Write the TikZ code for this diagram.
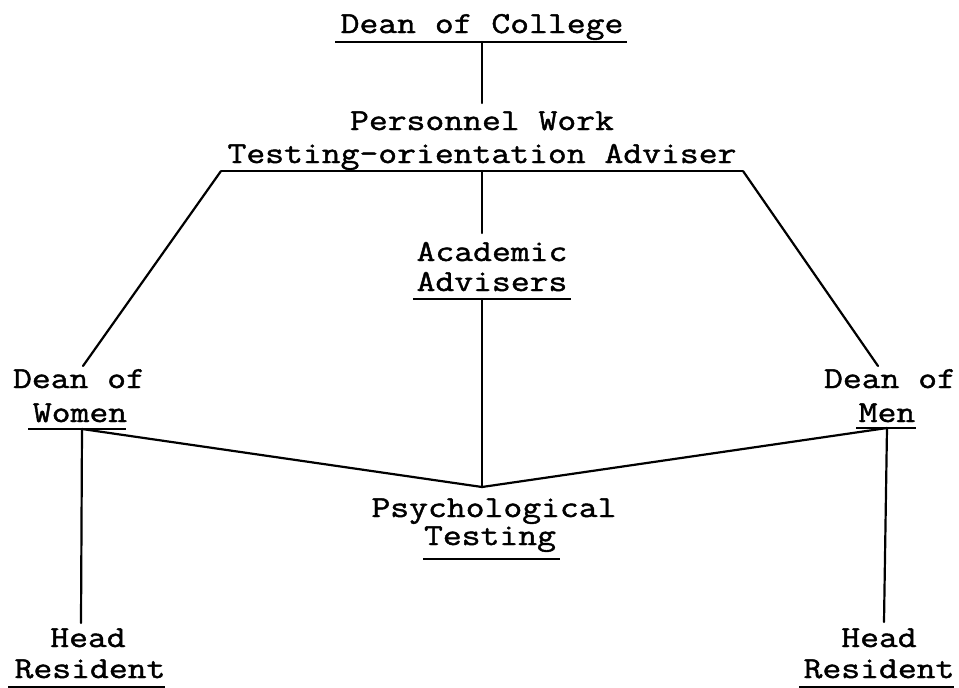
\documentclass[tikz,border=0pt]{standalone}
\usepackage{fontspec}
\newfontfamily\typewriter[FakeStretch=1.2,FakeBold=1.4]{Latin Modern Mono}
\begin{document}
\begin{tikzpicture}[x=1pt,y=-1pt,
  txt/.style={inner sep=0pt, anchor=base, font=\typewriter\fontsize{30.5}{34}\selectfont},
  upper/.style={txt, text depth=0pt},
  lower/.style={txt, text height=12pt},
  rule/.style={line width=2.6pt},
  link/.style={line width=2.2pt, line cap=round, line join=round}]
\useasboundingbox (0,0) rectangle (959,688);
\fill[white] (0,0) rectangle (959,688);

% --- titles ---
\node[txt] (college) at (482,33) {Dean of College};
\node[upper] (pw1) at (482,130) {Personnel Work};
\node[lower] (pw2) at (482,163) {Testing-orientation Adviser};
\node[upper] (acad1) at (492,261) {Academic};
\node[lower] (acad2) at (492,291) {Advisers};
\node[upper] (women1) at (79,388) {Dean of};
\node[lower] (women2) at (80,422) {Women};
\node[upper] (men1) at (890,388) {Dean of};
\node[lower] (men2) at (887,422) {Men};
\node[upper] (psy1) at (494,517) {Psychological};
\node[lower] (psy2) at (490,545) {Testing};
\node[upper] (headL1) at (88,647) {Head};
\node[lower] (headL2) at (90,678) {Resident};
\node[upper] (headR1) at (879,647) {Head};
\node[lower] (headR2) at (879,678) {Resident};

% --- underlines ---
\draw[rule] (335,42) -- (627,42);
\draw[rule] (413,299) -- (571,299);
\draw[rule] (28,429) -- (126,429);
\draw[rule] (856,428) -- (916,428);
\draw[rule] (423,559) -- (560,559);
\draw[rule] (8,687) -- (165,687);
\draw[rule] (799,687) -- (954,687);

% --- connection points ---
\coordinate (college-u) at (482,42);
\coordinate (pw-top) at (482,103);
\coordinate (adv-l) at (221,171);
\coordinate (adv-c) at (482,171);
\coordinate (adv-r) at (743,171);
\coordinate (acad-top) at (482,233);
\coordinate (acad-u) at (482,299);
\coordinate (women-top) at (83,366);
\coordinate (men-top) at (878,366);
\coordinate (women-u) at (82,429);
\coordinate (men-u) at (887,428);
\coordinate (psy-top) at (482,487);
\coordinate (headL-top) at (81,623);
\coordinate (headR-top) at (884,622);

% --- connectors ---
\draw[link] (college-u) -- (pw-top);
\draw[rule] (adv-l) -- (adv-r);
\draw[link] (adv-l) -- (women-top);
\draw[link] (adv-r) -- (men-top);
\draw[link] (adv-c) -- (acad-top);
\draw[link] (acad-u) -- (psy-top);
\draw[link] (women-u) -- (psy-top);
\draw[link] (men-u) -- (psy-top);
\draw[link] (women-u) -- (headL-top);
\draw[link] (men-u) -- (headR-top);
\end{tikzpicture}
\end{document}
